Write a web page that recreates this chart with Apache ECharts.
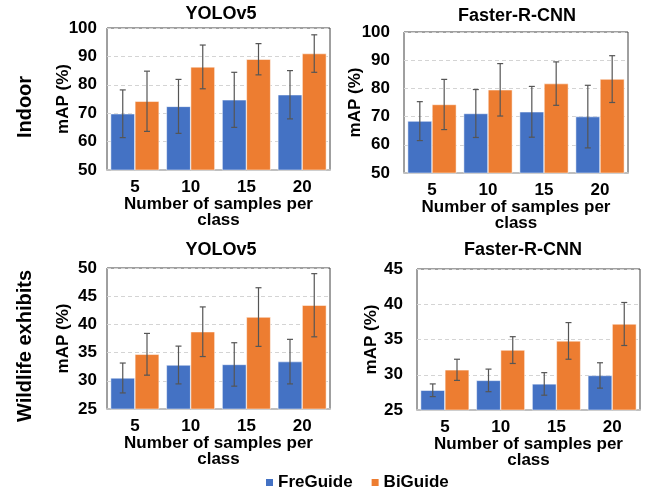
<!DOCTYPE html>
<html>
<head>
<meta charset="utf-8">
<script src="https://cdn.jsdelivr.net/npm/echarts@6/dist/echarts.min.js"></script>
<style>
html,body{margin:0;padding:0;background:#fff;}
#chart{width:655px;height:494px;}
</style>
</head>
<body>
<div id="chart"></div>
<script>
// ---- data ----
var categories = ['5', '10', '15', '20'];
var seriesNames = ['FreGuide', 'BiGuide'];
var panelTitles = ['YOLOv5', 'Faster-R-CNN', 'YOLOv5', 'Faster-R-CNN'];
var rowLabels = ['Indoor', 'Wildlife exhibits'];

// Indoor / YOLOv5
var indoorYoloFre = [69.8, 72.4, 74.7, 76.5];
var indoorYoloFreErr = [8.4, 9.5, 9.7, 8.5];
var indoorYoloBi = [74.2, 86.3, 89.0, 91.0];
var indoorYoloBiErr = [10.6, 7.7, 5.5, 6.6];
// Indoor / Faster-R-CNN
var indoorFrcnnFre = [68.4, 71.1, 71.7, 70.0];
var indoorFrcnnFreErr = [6.9, 8.5, 9.0, 11.1];
var indoorFrcnnBi = [74.3, 79.5, 81.7, 83.3];
var indoorFrcnnBiErr = [8.9, 9.3, 7.7, 8.3];
// Wildlife / YOLOv5
var wildYoloFre = [30.5, 32.8, 32.9, 33.4];
var wildYoloFreErr = [2.65, 3.35, 3.85, 3.95];
var wildYoloBi = [34.7, 38.7, 41.3, 43.4];
var wildYoloBiErr = [3.7, 4.4, 5.2, 5.6];
// Wildlife / Faster-R-CNN
var wildFrcnnFre = [27.8, 29.2, 28.7, 29.9];
var wildFrcnnFreErr = [0.9, 1.6, 1.6, 1.8];
var wildFrcnnBi = [30.7, 33.5, 34.8, 37.2];
var wildFrcnnBiErr = [1.5, 1.9, 2.6, 3.05];

// y axis ranges
var yMins = [50, 50, 25, 25];
var yMaxs = [100, 100, 50, 45];
var yIntervals = [10, 10, 5, 5];

var panels = [
  {fre: indoorYoloFre, freErr: indoorYoloFreErr, bi: indoorYoloBi, biErr: indoorYoloBiErr},
  {fre: indoorFrcnnFre, freErr: indoorFrcnnFreErr, bi: indoorFrcnnBi, biErr: indoorFrcnnBiErr},
  {fre: wildYoloFre, freErr: wildYoloFreErr, bi: wildYoloBi, biErr: wildYoloBiErr},
  {fre: wildFrcnnFre, freErr: wildFrcnnFreErr, bi: wildFrcnnBi, biErr: wildFrcnnBiErr}
];

// ---- layout ----
var FONT = "'Liberation Sans', Arial, sans-serif";
var BLUE = '#4472C4', ORANGE = '#ED7D31';
var grids = [
  {left: 107, top: 28, width: 223, height: 142},
  {left: 404, top: 32, width: 224, height: 141},
  {left: 107, top: 268, width: 223, height: 141},
  {left: 417, top: 269, width: 223, height: 141}
];
var yLabelMargins = [10, 14, 10, 14];
var yNameGaps = [35, 40, 35, 37];
var titlePos = [[221, 5], [517, 7], [221, 241], [523, 241]];
var BAR_FRAC = 0.435;

var option = {
  backgroundColor: '#fff',
  animation: false,
  textStyle: {fontFamily: FONT},
  title: [],
  legend: {
    data: seriesNames,
    left: 264, top: 474, padding: 0,
    icon: 'rect', itemWidth: 9, itemHeight: 9, itemGap: 17,
    textStyle: {fontFamily: FONT, fontWeight: 'bold', fontSize: 17, color: '#000', padding: [0, 0, 0, -1]}
  },
  grid: [], xAxis: [], yAxis: [], series: [],
  graphic: []
};

panels.forEach(function (p, i) {
  var g = grids[i];
  option.grid.push({left: g.left, top: g.top, width: g.width, height: g.height,
    show: true, borderColor: '#404040', borderWidth: 1, containLabel: false});
  option.title.push({text: panelTitles[i], left: titlePos[i][0], top: titlePos[i][1],
    textAlign: 'center', padding: 0,
    textStyle: {fontFamily: FONT, fontWeight: 'bold', fontSize: 18, color: '#000'}});
  option.xAxis.push({type: 'category', gridIndex: i, data: categories,
    axisLine: {show: true, lineStyle: {color: '#bfbfbf', width: 2}},
    axisTick: {show: false},
    axisLabel: {fontFamily: FONT, fontWeight: 'bold', fontSize: 17, color: '#000', margin: 9},
    name: 'Number of samples per\nclass', nameLocation: 'middle', nameGap: 26,
    nameMoveOverlap: false,
    nameTextStyle: {fontFamily: FONT, fontWeight: 'bold', fontSize: 17, color: '#000', lineHeight: 16}
  });
  option.yAxis.push({type: 'value', gridIndex: i, min: yMins[i], max: yMaxs[i], interval: yIntervals[i],
    axisLine: {show: false}, axisTick: {show: false},
    splitLine: {show: true, lineStyle: {color: '#d4d4d4', type: [4, 3], width: 1}},
    axisLabel: {fontFamily: FONT, fontWeight: 'bold', fontSize: 17, color: '#000', margin: yLabelMargins[i]},
    name: 'mAP (%)', nameLocation: 'middle', nameGap: yNameGaps[i],
    nameMoveOverlap: false,
    nameTextStyle: {fontFamily: FONT, fontWeight: 'bold', fontSize: 17, color: '#000'}
  });
  option.series.push({type: 'bar', name: 'FreGuide', xAxisIndex: i, yAxisIndex: i,
    data: p.fre, barWidth: (BAR_FRAC * 100) + '%', barGap: '0%',
    itemStyle: {color: BLUE, borderColor: '#ffffff', borderWidth: 0.5}, z: 2});
  option.series.push({type: 'bar', name: 'BiGuide', xAxisIndex: i, yAxisIndex: i,
    data: p.bi, barWidth: (BAR_FRAC * 100) + '%', barGap: '0%',
    itemStyle: {color: ORANGE, borderColor: '#ffffff', borderWidth: 0.5}, z: 2});
  [[p.fre, p.freErr, -1], [p.bi, p.biErr, 1]].forEach(function (s) {
    var means = s[0], errs = s[1], side = s[2];
    var errData = means.map(function (m, k) { return [k, m - errs[k], m + errs[k]]; });
    option.series.push({type: 'custom', xAxisIndex: i, yAxisIndex: i, z: 5,
      data: errData,
      encode: {x: 0, y: [1, 2]},
      renderItem: function (params, api) {
        var k = api.value(0);
        var lo = api.coord([k, api.value(1)]);
        var hi = api.coord([k, api.value(2)]);
        var band = api.size([1, 0])[0];
        var x = lo[0] + side * band * BAR_FRAC / 2;
        var cap = 3;
        var st = {stroke: '#555555', lineWidth: 1.2};
        return {type: 'group', children: [
          {type: 'line', shape: {x1: x, y1: lo[1], x2: x, y2: hi[1]}, style: st},
          {type: 'line', shape: {x1: x - cap, y1: lo[1], x2: x + cap, y2: lo[1]}, style: st},
          {type: 'line', shape: {x1: x - cap, y1: hi[1], x2: x + cap, y2: hi[1]}, style: st}
        ]};
      }
    });
  });
});

option.graphic.push({type: 'text', x: 25, y: 107, rotation: Math.PI / 2,
  style: {text: rowLabels[0], fontFamily: FONT, fontWeight: 'bold', fontSize: 20, fill: '#000',
    align: 'center', verticalAlign: 'middle'}});
option.graphic.push({type: 'text', x: 25, y: 346, rotation: Math.PI / 2,
  style: {text: rowLabels[1], fontFamily: FONT, fontWeight: 'bold', fontSize: 20, fill: '#000',
    align: 'center', verticalAlign: 'middle'}});

var chart = echarts.init(document.getElementById('chart'), null, {renderer: 'canvas'});
chart.setOption(option);
</script>
</body>
</html>
